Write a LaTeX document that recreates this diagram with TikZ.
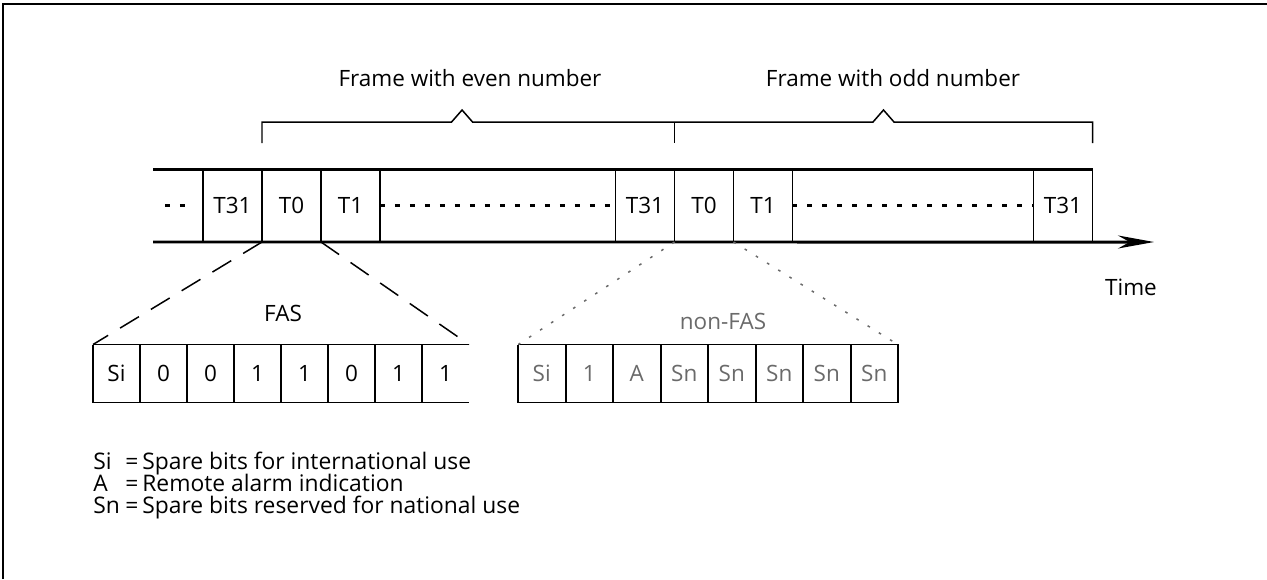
\documentclass[tikz,border=0pt]{standalone}
\usepackage{fontspec}
\setmainfont{Open Sans}
\usepackage{tikz}
\usetikzlibrary{arrows.meta,positioning,calc}
\definecolor{scanGray}{HTML}{6a6a6a}

\begin{document}
\begin{tikzpicture}[x=0.02cm,y=-0.02cm,
  txt/.style={font=\fontsize{12.8}{15}\selectfont,inner sep=0pt},
  keytxt/.style={font=\fontsize{13}{15}\selectfont,inner sep=0pt,anchor=base west},
  slot/.style={txt,draw,line width=1.1pt,outer sep=0pt,minimum width=1.18cm,minimum height=1.46cm},
  bitcell/.style={txt,outer sep=0pt,minimum width=0.94cm,minimum height=1.16cm},
  bar/.style={line width=1.7pt},
  rule/.style={line width=1.1pt},
  brace/.style={line width=0.85pt},
  fan/.style={line width=0.85pt,dash pattern=on 0.44cm off 0.28cm},
  faint/.style={line width=0.85pt,scanGray,dash pattern=on 1.5pt off 6pt},
  dots/.style={line width=1.4pt,dash pattern=on 0.1cm off 0.2cm}]
\useasboundingbox (0,0) rectangle (1267,579);
\draw[bar] (3,579) -- (3,4) -- (1267,4);
% time slots of the two frames
\node[slot] (t31a) at (232.5,205.5) {T31};
\node[slot,right=0pt of t31a] (t0a) {T0};
\node[slot,right=0pt of t0a] (t1a) {T1};
\node[slot] (t31b) at (645,205.5) {T31};
\node[slot,right=0pt of t31b] (t0b) {T0};
\node[slot,right=0pt of t0b] (t1b) {T1};
\node[slot] (t31c) at (1063,205.5) {T31};
\coordinate (lft) at (153,205.5);
\coordinate (tip) at (1154,242);
\draw[bar] (lft |- t31a.north) -- (t31c.north east);
\draw[bar,-{Stealth[length=0.72cm,width=0.26cm]}] (lft |- t31a.south) -- (tip);
\draw[dots] ($(lft)+(12,0)$) -- ($(lft)+(38,0)$);
\draw[dots] (t1a.east) -- (t31b.west);
\draw[dots] (t1b.east) -- (t31c.west);
% frame braces
\coordinate (bl) at ($(t0a.north west)+(0,-47)$);
\coordinate (bm) at ($(t0b.north west)+(0,-47)$);
\coordinate (br) at ($(t31c.north east)+(0,-47)$);
\draw[brace] ($(bl)+(0,21)$) -- (bl) -- ($(bl)!.485!(bm)+(-10.5,0)$) -- ++(10.5,-12) -- ++(10.5,12) -- (bm)
  -- ($(bm)!.5!(br)+(-10.5,0)$) -- ++(10.5,-12) -- ++(10.5,12) -- (br) -- ++(0,21);
\draw[brace] (bm) -- ++(0,21);
\node[txt] (even) at (470,78) {Frame with even number};
\node[txt] (odd) at (893,78) {Frame with odd number};
\node[txt] (time) at (1131,287) {Time};
% FAS and non-FAS bytes
\foreach \b [count=\i] in {Si,0,0,1,1,0,1,1}
  \node[bitcell] (f\i) at ({116.5+47*(\i-1)},373.5) {\b};
\draw[rule] (f1.north west) -- (f8.north east) (f1.south west) -- (f8.south east);
\foreach \i in {1,...,8} \draw[rule] (f\i.north west) -- (f\i.south west);
\foreach \b [count=\i] in {Si,1,A,Sn,Sn,Sn,Sn,Sn}
  \node[bitcell,text=scanGray] (n\i) at ({541.75+47.5*(\i-1)},373.5) {\b};
\draw[rule] (n1.north west) -- (n8.north east) -- (n8.south east) -- (n1.south west);
\foreach \i in {1,...,8} \draw[rule] (n\i.north west) -- (n\i.south west);
\draw[fan] (t0a.south west) -- (f1.north west);
\draw[fan] (t0a.south east) -- (f8.north east);
\draw[faint] (t0b.south west) -- (n1.north west);
\draw[faint] (t0b.south east) -- (n8.north east);
\node[txt] (fas) at (283,313) {FAS};
\node[txt,text=scanGray] (nfas) at (723,321) {non-FAS};
% legend
\foreach \s/\t [count=\i] in {Si/Spare bits for international use,A/Remote alarm indication,Sn/Spare bits reserved for national use} {
  \node[keytxt] (k\i) at (93,{469+22*(\i-1)}) {\s};
  \node[keytxt] (e\i) at (125,{469+22*(\i-1)}) {=};
  \node[keytxt] (d\i) at (142,{469+22*(\i-1)}) {\t};
}
\end{tikzpicture}
\end{document}
